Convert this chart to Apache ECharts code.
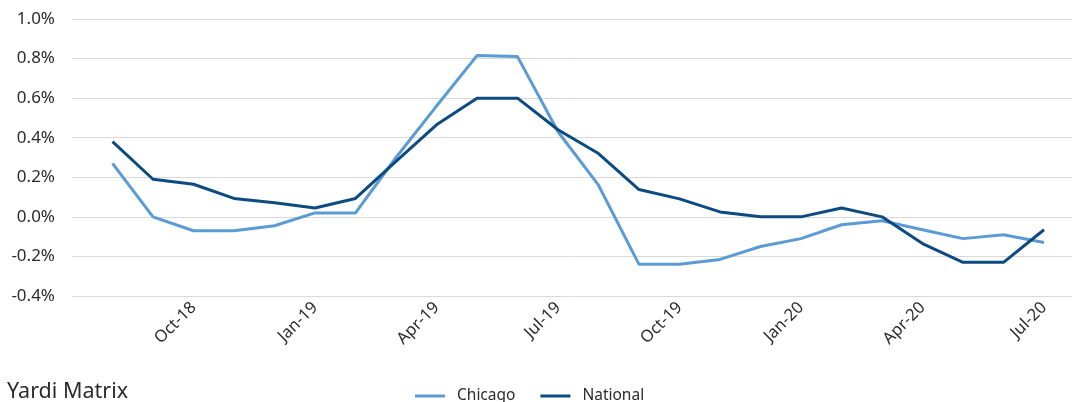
<!DOCTYPE html>
<html>
<head>
<meta charset="utf-8">
<script src="https://cdn.jsdelivr.net/npm/echarts@6/dist/echarts.min.js"></script>
<style>
  html, body { margin: 0; padding: 0; background: #fff; }
  #chart { width: 1072px; height: 402px; }
</style>
</head>
<body>
<div id="chart"></div>
<script>
const months = [
  'Aug-18', 'Sep-18', 'Oct-18', 'Nov-18', 'Dec-18', 'Jan-19',
  'Feb-19', 'Mar-19', 'Apr-19', 'May-19', 'Jun-19', 'Jul-19',
  'Aug-19', 'Sep-19', 'Oct-19', 'Nov-19', 'Dec-19', 'Jan-20',
  'Feb-20', 'Mar-20', 'Apr-20', 'May-20', 'Jun-20', 'Jul-20'
]
const chicago = [
  0.27, 0.00, -0.07, -0.07, -0.045, 0.02,
  0.02, 0.30, 0.56, 0.815, 0.81, 0.43,
  0.16, -0.24, -0.24, -0.215, -0.15, -0.11,
  -0.04, -0.02, -0.065, -0.11, -0.09, -0.13
]
const national = [
  0.38, 0.19, 0.165, 0.093, 0.071, 0.045,
  0.093, 0.28, 0.465, 0.60, 0.60, 0.44,
  0.32, 0.138, 0.091, 0.025, 0.0, 0.0,
  0.045, 0.0, -0.135, -0.23, -0.23, -0.065
]

// blank slot at each end so the plot runs past the first and last month
const cats = [''].concat(months, [''])
const pad = arr => [null].concat(arr, [null])

const font = '"Noto Sans", "DejaVu Sans", sans-serif'
const textColor = '#2b2b2b'

const chart = echarts.init(document.getElementById('chart'))
chart.setOption({
  animation: false,
  textStyle: { fontFamily: font },
  grid: {
    left: 72,
    right: -12.5,
    top: 19,
    height: 277,
    outerBoundsMode: 'none'
  },
  legend: {
    top: 383,
    left: 410,
    itemWidth: 30,
    itemHeight: 3,
    itemGap: 25,
    icon: 'rect',
    textStyle: { fontSize: 15.5, color: textColor, fontFamily: font, padding: [0, 0, 0, 7] },
    data: ['Chicago', 'National']
  },
  xAxis: {
    type: 'category',
    data: cats,
    boundaryGap: false,
    axisLine: { show: false },
    axisTick: { show: false },
    splitLine: { show: false },
    axisLabel: {
      rotate: 45,
      margin: 9,
      fontSize: 16.5,
      color: textColor,
      interval: (idx) => idx % 3 === 0
    }
  },
  yAxis: {
    type: 'value',
    min: -0.4,
    max: 1.0,
    interval: 0.2,
    axisLine: { show: false },
    axisTick: { show: false },
    splitLine: { lineStyle: { color: '#d9d9d9', width: 1 } },
    axisLabel: {
      margin: 17,
      fontSize: 17,
      color: textColor,
      formatter: v => v.toFixed(1) + '%'
    }
  },
  graphic: [{
    type: 'text',
    left: 7,
    top: 381,
    style: { text: 'Yardi Matrix', fontSize: 21.5, fill: textColor, fontFamily: font }
  }],
  series: [
    {
      name: 'Chicago',
      type: 'line',
      data: pad(chicago),
      showSymbol: false,
      lineStyle: { color: '#5b9bd5', width: 3 },
      itemStyle: { color: '#5b9bd5' }
    },
    {
      name: 'National',
      type: 'line',
      data: pad(national),
      showSymbol: false,
      lineStyle: { color: '#0c4a82', width: 3 },
      itemStyle: { color: '#0c4a82' }
    }
  ]
})
</script>
</body>
</html>
